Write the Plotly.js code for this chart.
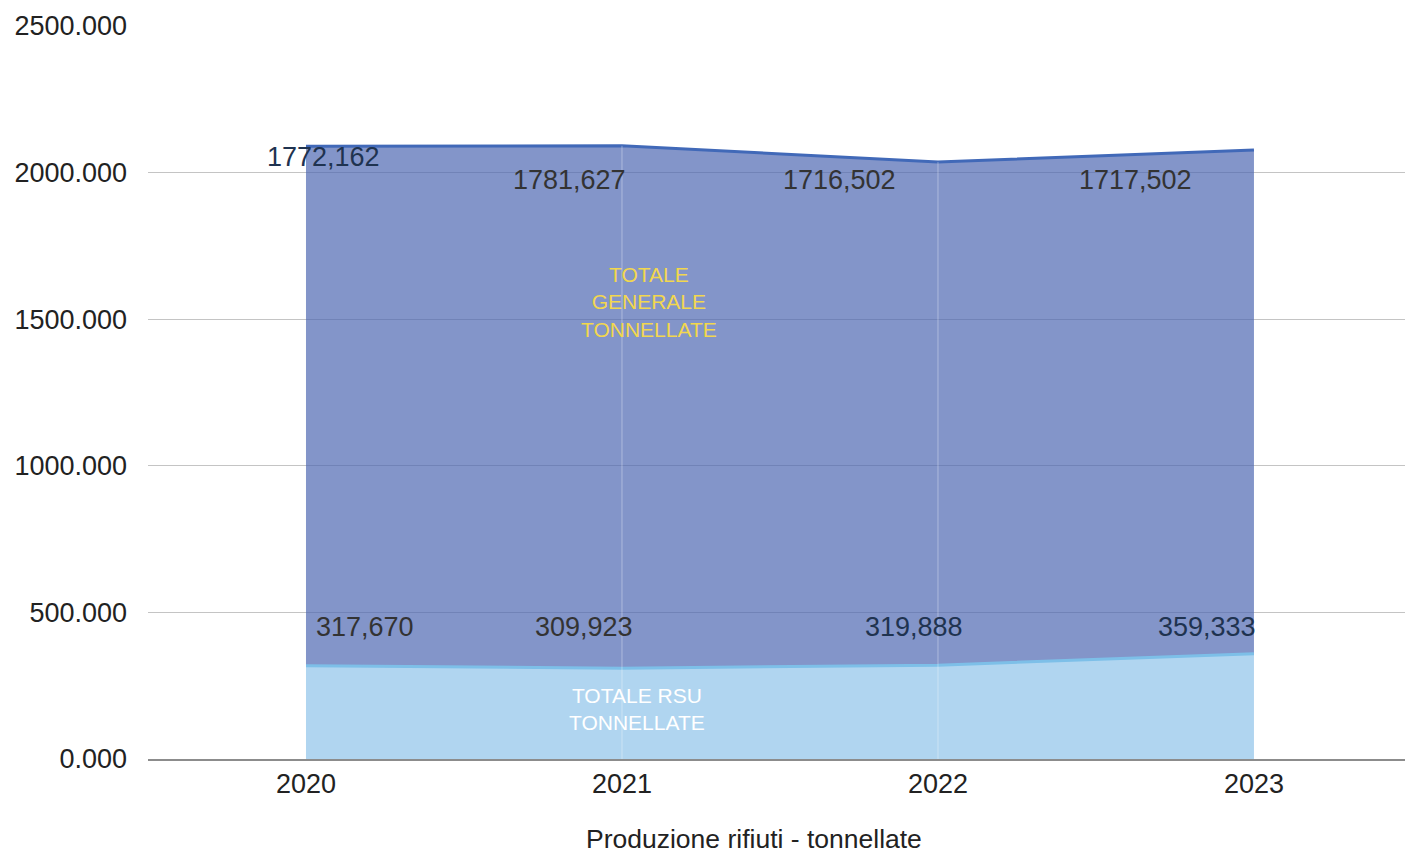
<!DOCTYPE html>
<html>
<head>
<meta charset="utf-8">
<script src="https://cdn.plot.ly/plotly-3.0.1.min.js"></script>
<style>html,body{margin:0;padding:0;background:#fff;}#chart{width:1405px;height:854px;}</style>
</head>
<body>
<div id="chart"></div>
<script>
const years = ['2020', '2021', '2022', '2023'];
const rsuValues = [317.670, 309.923, 319.888, 359.333];
const generaleValues = [1772.162, 1781.627, 1716.502, 1717.502];
const rsuName = 'TOTALE RSU<br>TONNELLATE';
const generaleName = 'TOTALE<br>GENERALE<br>TONNELLATE';
const xAxisTitle = 'Produzione rifiuti - tonnellate';

const fmt = v => v.toFixed(3).replace('.', ',');
const totals = rsuValues.map((v, i) => v + generaleValues[i]);

const font = 'Liberation Sans, Arial, sans-serif';

const traces = [
  {
    x: years, y: rsuValues, type: 'scatter', mode: 'lines', stackgroup: 'one',
    name: 'TOTALE RSU TONNELLATE',
    line: {color: '#7dbfe8', width: 3},
    fillcolor: '#b0d5f0',
    hoverinfo: 'x+y'
  },
  {
    x: years, y: generaleValues, type: 'scatter', mode: 'lines', stackgroup: 'one',
    name: 'TOTALE GENERALE TONNELLATE',
    line: {color: '#4169b8', width: 3},
    fillcolor: 'rgba(78,104,178,0.70)',
    hoverinfo: 'x+y'
  }
];

// label placement (style only)
const topXShift = [18, -52, -98, -118];
const topY = [2053, 1975, 1975, 1975];
const topColor = ['#1f3350', '#333333', '#333333', '#333333'];
const botXShift = [59, -38, -24, -47];
const botColor = ['#333333', '#333333', '#1f3350', '#1f3350'];

const annotations = [];
years.forEach((yr, i) => {
  annotations.push({
    x: i, y: topY[i], xref: 'x', yref: 'y', text: fmt(generaleValues[i]),
    showarrow: false, xshift: topXShift[i], font: {family: font, size: 27, color: topColor[i]}
  });
  annotations.push({
    x: i, y: 450, xref: 'x', yref: 'y', text: fmt(rsuValues[i]),
    showarrow: false, xshift: botXShift[i], font: {family: font, size: 27, color: botColor[i]}
  });
});
annotations.push({
  x: 1, y: 1559, xref: 'x', yref: 'y', text: generaleName, showarrow: false,
  xshift: 27, font: {family: font, size: 21, color: '#f2d74e'}
});
annotations.push({
  x: 1, y: 171, xref: 'x', yref: 'y', text: rsuName, showarrow: false,
  xshift: 15, font: {family: font, size: 21, color: '#ffffff'}
});
// axis title
annotations.push({
  x: 0.5, y: 0, xref: 'paper', yref: 'paper', xanchor: 'center', yanchor: 'middle',
  xshift: -23, yshift: -80, borderpad: 0, text: xAxisTitle, showarrow: false,
  font: {family: font, size: 26.5, color: '#222222'}
});

// faint vertical separators inside the areas at inner categories
const shapes = [1, 2].map(i => ({
  type: 'line', xref: 'x', yref: 'y', x0: i, x1: i, y0: 0, y1: totals[i],
  line: {color: 'rgba(255,255,255,0.35)', width: 1}, layer: 'above'
}));

const layout = {
  width: 1405, height: 854,
  margin: {l: 148, r: 0, t: 26, b: 95},
  paper_bgcolor: '#ffffff', plot_bgcolor: '#ffffff',
  showlegend: false,
  font: {family: font, size: 27, color: '#222222'},
  xaxis: {
    type: 'category', range: [-0.5, 3.478],
    showgrid: false, zeroline: false,
    showline: true, linecolor: '#8c8c8c', linewidth: 1.5,
    ticks: '', tickfont: {family: font, size: 27, color: '#222222'},
    ticklabelstandoff: 0
  },
  yaxis: {
    range: [0, 2500], tickvals: [0, 500, 1000, 1500, 2000, 2500], tickformat: '.3f',
    showgrid: true, gridcolor: '#c4c4c4', gridwidth: 1,
    zeroline: false, showline: false, ticks: '',
    tickfont: {family: font, size: 27, color: '#222222'},
    ticklabelstandoff: 20
  },
  annotations: annotations,
  shapes: shapes
};

Plotly.newPlot('chart', traces, layout, {displayModeBar: false, staticPlot: true});
</script>
</body>
</html>
